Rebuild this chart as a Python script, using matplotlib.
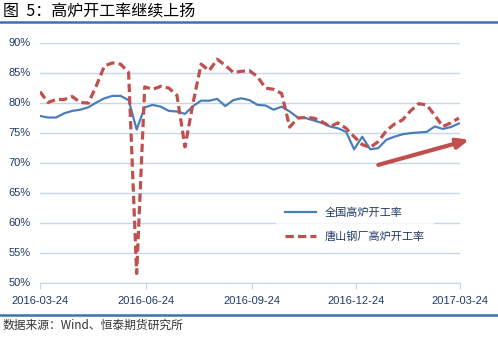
import matplotlib
matplotlib.use('Agg')
import matplotlib.pyplot as plt
import matplotlib.dates as mdates
import pandas as pd

plt.rcParams['font.family'] = ['Noto Sans CJK SC', 'DejaVu Sans']

# weekly data, 2016-03-24 .. 2017-03-23
dates = pd.date_range('2016-03-24', periods=53, freq='7D')
national = [77.75, 77.5, 77.5, 78.2, 78.6, 78.8, 79.2, 80.0, 80.7, 81.1,
            81.1, 80.4, 75.5, 79.2, 79.6, 79.3, 78.6, 78.5, 78.1, 79.4,
            80.3, 80.3, 80.6, 79.4, 80.4, 80.7, 80.4, 79.6, 79.5, 78.8,
            79.3, 78.5, 77.5, 77.4, 77.0, 76.6, 76.0, 75.7, 75.1, 72.2,
            74.3, 72.2, 72.4, 73.8, 74.3, 74.7, 74.9, 75.0, 75.1, 76.0,
            75.6, 75.9, 76.5]
tangshan = [81.8, 80.0, 80.5, 80.5, 81.0, 80.0, 79.9, 82.8, 86.1, 86.6,
            86.4, 85.0, 51.5, 82.6, 82.2, 82.7, 82.4, 81.2, 72.6, 79.9,
            86.4, 85.3, 87.2, 86.2, 85.0, 85.2, 85.3, 84.3, 82.4, 82.2,
            81.5, 75.9, 77.4, 77.5, 77.4, 76.8, 76.0, 76.6, 75.7, 74.3,
            73.0, 72.5, 73.5, 75.3, 76.4, 77.1, 78.6, 79.8, 79.6, 77.9,
            76.0, 76.6, 77.4]
tick_dates = ['2016-03-24', '2016-06-24', '2016-09-24', '2016-12-24', '2017-03-24']
arrow_start = ('2017-01-12', 69.6)
arrow_end = ('2017-04-01', 73.8)

BLUE = '#4a7ebb'
RED = '#c0504d'
NAVY = '#1f3864'
GRID = '#c5d7ec'

fig = plt.figure(figsize=(4.98, 3.37), dpi=100)
ax = fig.add_axes([40/498, 1-282.5/337, 420/498, 240/337])

ax.plot(dates, national, color=BLUE, lw=1.6, label='全国高炉开工率')
ax.plot(dates, tangshan, color=RED, lw=2.3, dashes=(2.6, 1.3), label='唐山钢厂高炉开工率')

ax.set_ylim(50, 90)
ax.set_yticks(range(50, 91, 5))
ax.set_yticklabels([f'{v}%' for v in range(50, 91, 5)])
ticks = pd.to_datetime(tick_dates)
ax.set_xlim(ticks[0], ticks[-1])
ax.set_xticks(ticks)
ax.set_xticklabels(tick_dates)

ax.grid(axis='y', color=GRID, lw=1)
ax.set_axisbelow(True)
for s in ['top', 'right', 'left']:
    ax.spines[s].set_visible(False)
ax.spines['bottom'].set_color(GRID)
ax.tick_params(axis='y', length=0, labelsize=8, labelcolor=NAVY, pad=7)
ax.tick_params(axis='x', length=4, color=GRID, labelsize=8, labelcolor=NAVY, pad=6)
for lab in ax.get_xticklabels() + ax.get_yticklabels():
    lab.set_family(['Liberation Sans', 'DejaVu Sans'])

x0 = mdates.date2num(pd.Timestamp(arrow_start[0]))
x1 = mdates.date2num(pd.Timestamp(arrow_end[0]))
ax.annotate('', xy=(x1, arrow_end[1]), xytext=(x0, arrow_start[1]),
            xycoords='data', textcoords='data',
            arrowprops=dict(arrowstyle='-|>,head_length=0.7,head_width=0.3',
                            color=RED, lw=3, shrinkA=0, shrinkB=0),
            annotation_clip=False)

leg = ax.legend(loc='center', bbox_to_anchor=(0.712, 0.332), bbox_transform=fig.transFigure,
                frameon=True, fontsize=8, handlelength=2.8, labelspacing=1.2,
                borderpad=0.8, labelcolor=NAVY)
leg.get_frame().set_facecolor('white')
leg.get_frame().set_edgecolor('none')

fig.text(0.006, 1-11/337, '图  5：高炉开工率继续上扬', fontsize=11.5, va='center', ha='left')
fig.add_artist(plt.Line2D([0, 1], [1-22/337, 1-22/337], color='#3b72b0', lw=1.8))
fig.add_artist(plt.Line2D([0, 1], [1-315/337, 1-315/337], color='#3b72b0', lw=1.8))
fig.text(0.006, 1-325/337, '数据来源：Wind、恒泰期货研究所', fontsize=8.5, va='center', ha='left',
         color='#333333')

fig.savefig('out.png', dpi=100)
